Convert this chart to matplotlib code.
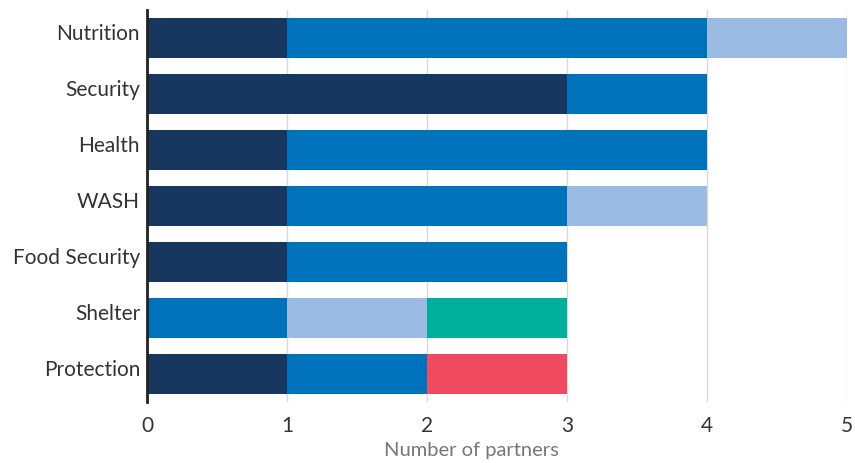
import matplotlib
matplotlib.use("Agg")
import matplotlib.pyplot as plt
import matplotlib.transforms as mtransforms
import numpy as np

categories = ["Nutrition", "Security", "Health", "WASH", "Food Security", "Shelter", "Protection"]
series_navy = [1, 3, 1, 1, 1, 0, 1]
series_blue = [3, 1, 3, 2, 2, 1, 1]
series_light = [1, 0, 0, 1, 0, 1, 0]
series_teal = [0, 0, 0, 0, 0, 1, 0]
series_red = [0, 0, 0, 0, 0, 0, 1]
x_ticks = [0, 1, 2, 3, 4, 5]
x_label = "Number of partners"

series = [series_navy, series_blue, series_light, series_teal, series_red]
colors = ["#18375F", "#0072BC", "#9BBBE3", "#00AE9C", "#EF4A60"]

plt.rcParams['font.family'] = ['Lato', 'DejaVu Sans']

fig = plt.figure(figsize=(8.55, 4.63), dpi=100)
ax = fig.add_axes([147/855, 1-402/463, 700/855, 392/463])

y = np.arange(len(categories))
left = np.zeros(len(categories))
for vals, c in zip(series, colors):
    v = np.array(vals, dtype=float)
    ax.barh(y, v, left=left, height=0.715, color=c, linewidth=0, zorder=3)
    left += v

ax.set_ylim(len(categories) - 0.5, -0.5)
ax.set_xlim(0, 5)
ax.set_yticks(y)
ax.set_yticklabels(categories, fontsize=15, color="#333333")
ax.set_xticks(x_ticks)
ax.set_xticklabels([str(t) for t in x_ticks], fontsize=15, color="#333333")
ax.tick_params(axis="x", length=0, pad=10)
ax.tick_params(axis="y", length=0, pad=5)
offset = mtransforms.ScaledTranslation(0, 6/100, fig.dpi_scale_trans)
for lab in ax.get_yticklabels():
    lab.set_transform(lab.get_transform() + offset)
ax.grid(axis="x", color="#d9d9d9", linewidth=1, zorder=0)
for s in ["top", "right", "bottom"]:
    ax.spines[s].set_visible(False)
ax.spines["left"].set_color("#222222")
ax.spines["left"].set_linewidth(2)
ax.spines["left"].set_zorder(5)
ax.set_xlabel(x_label, fontsize=14.5, color="#777777")
ax.xaxis.set_label_coords((471-147)/700, -0.102)

fig.savefig("out.png", dpi=100)
